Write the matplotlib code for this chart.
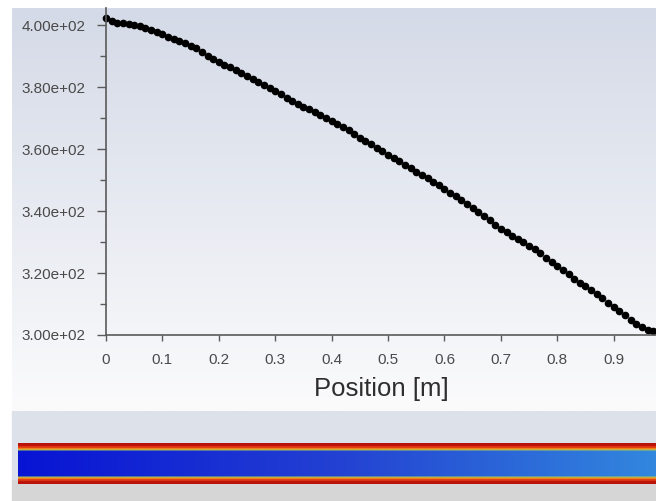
import numpy as np
import matplotlib
matplotlib.use("Agg")
import matplotlib.pyplot as plt
from matplotlib.patches import Rectangle
from matplotlib.ticker import MultipleLocator

# temperature profile along the pipe
position = [0.00, 0.01, 0.02, 0.03, 0.04, 0.05, 0.06, 0.07, 0.08, 0.09,
            0.10, 0.11, 0.12, 0.13, 0.14, 0.15, 0.16, 0.17, 0.18, 0.19,
            0.20, 0.21, 0.22, 0.23, 0.24, 0.25, 0.26, 0.27, 0.28, 0.29,
            0.30, 0.31, 0.32, 0.33, 0.34, 0.35, 0.36, 0.37, 0.38, 0.39,
            0.40, 0.41, 0.42, 0.43, 0.44, 0.45, 0.46, 0.47, 0.48, 0.49,
            0.50, 0.51, 0.52, 0.53, 0.54, 0.55, 0.56, 0.57, 0.58, 0.59,
            0.60, 0.61, 0.62, 0.63, 0.64, 0.65, 0.66, 0.67, 0.68, 0.69,
            0.70, 0.71, 0.72, 0.73, 0.74, 0.75, 0.76, 0.77, 0.78, 0.79,
            0.80, 0.81, 0.82, 0.83, 0.84, 0.85, 0.86, 0.87, 0.88, 0.89,
            0.90, 0.91, 0.92, 0.93, 0.94, 0.95, 0.96, 0.97]
temperature = [402.2, 401.2, 400.8, 400.6, 400.4, 400.0, 399.6, 399.1, 398.5, 397.8,
               397.0, 396.3, 395.5, 394.9, 394.3, 393.4, 392.5, 391.2, 390.1, 389.0,
               388.1, 387.2, 386.4, 385.5, 384.6, 383.6, 382.6, 381.6, 380.6, 379.6,
               378.6, 377.6, 376.6, 375.6, 374.6, 373.7, 372.8, 371.9, 370.9, 370.0,
               369.1, 368.1, 367.1, 366.0, 364.9, 363.7, 362.6, 361.5, 360.4, 359.3,
               358.1, 357.0, 356.0, 354.9, 353.8, 352.7, 351.6, 350.6, 349.5, 348.3,
               347.1, 345.9, 344.8, 343.5, 342.3, 341.0, 339.7, 338.4, 337.0, 335.6,
               334.3, 333.2, 332.1, 331.1, 330.0, 328.8, 327.6, 326.4, 325.0, 323.6,
               322.3, 321.0, 319.6, 318.2, 316.9, 315.8, 314.5, 313.1, 311.8, 310.3,
               309.0, 307.7, 306.3, 305.0, 303.7, 302.6, 301.7, 301.2]
x_ticks = [0, 0.1, 0.2, 0.3, 0.4, 0.5, 0.6, 0.7, 0.8, 0.9]
x_ticklabels = ["0", "0.1", "0.2", "0.3", "0.4", "0.5", "0.6", "0.7", "0.8", "0.9"]
y_ticks = [300, 320, 340, 360, 380, 400]
y_ticklabels = ["3.00e+02", "3.20e+02", "3.40e+02", "3.60e+02", "3.80e+02", "4.00e+02"]

W, H = 656, 501
plt.rcParams["font.family"] = ["Liberation Sans", "DejaVu Sans"]
fig = plt.figure(figsize=(W / 100, H / 100), dpi=100)
fig.patch.set_facecolor("white")


def box(x0, y0, x1, y1):
    # pixel box (top-left origin) -> figure fraction rect
    return [x0 / W, 1 - y1 / H, (x1 - x0) / W, (y1 - y0) / H]


# gradient panel behind the xy plot
bg = fig.add_axes(box(12, 8, 656, 411))
top = np.array([212, 218, 231]) / 255
bot = np.array([251, 251, 252]) / 255
t = np.linspace(0, 1, 200)[:, None]
grad = top * (1 - t) + bot * t
bg.imshow(grad[:, None, :], aspect="auto", extent=[0, 1, 0, 1])
bg.axis("off")

# lower panel with the pipe contour
fig.patches.append(Rectangle((12 / W, 1 - 480 / H), 644 / W, 69 / H,
                             transform=fig.transFigure, color="#dde1ea", zorder=-1))
fig.patches.append(Rectangle((12 / W, 0), 644 / W, 21 / H,
                             transform=fig.transFigure, color="#d6d6d6", zorder=-1))

pipe_ax = fig.add_axes(box(18, 443, 656, 484))
pipe_ax.set_zorder(2)
rows = 82
cols = 300
img = np.zeros((rows, cols, 3))
left_blue = np.array([8, 20, 212]) / 255
mid_blue = np.array([35, 65, 210]) / 255
right_blue = np.array([50, 135, 222]) / 255
s = np.linspace(0, 1, cols)[:, None]
blue = np.where(s < 0.5, left_blue * (1 - 2 * s) + mid_blue * 2 * s,
                mid_blue * (2 - 2 * s) + right_blue * (2 * s - 1))
edge = [(0, 6, (185, 18, 10)), (6, 10, (225, 55, 18)), (10, 13, (240, 140, 30)),
        (13, 15, (165, 200, 90))]
for a, b, c in edge:
    img[a:b] = np.array(c) / 255
    img[rows - b:rows - a] = np.array(c) / 255
img[15:rows - 15] = blue[None, :, :]
pipe_ax.imshow(img, aspect="auto", extent=[0, 1, 0, 1], interpolation="bilinear")
pipe_ax.axis("off")

# xy plot
ax = fig.add_axes(box(106, 8, 656, 335))
ax.set_zorder(3)
ax.patch.set_alpha(0)
ax.plot(position, temperature, "o", color="black", ms=4.5, mec="black", clip_on=False)
ax.set_xlim(0, 0.975)
ax.set_ylim(300, 405.5)
for side in ["top", "right"]:
    ax.spines[side].set_visible(False)
for side in ["left", "bottom"]:
    ax.spines[side].set_color("#5a5a5a")
    ax.spines[side].set_linewidth(1.2)

ax.set_xticks(x_ticks)
ax.set_xticklabels(x_ticklabels)
ax.set_yticks(y_ticks)
ax.set_yticklabels(y_ticklabels)
ax.yaxis.set_minor_locator(MultipleLocator(10))
ax.tick_params(axis="y", which="major", direction="out", length=6.5, width=1,
               color="#5a5a5a", labelsize=11, labelcolor="#4a4a4a", pad=8)
ax.tick_params(axis="y", which="minor", direction="out", length=4, width=1, color="#5a5a5a")
ax.tick_params(axis="x", which="major", direction="out", length=4, width=1,
               color="#5a5a5a", labelsize=11, labelcolor="#4a4a4a", pad=9)
ax.set_xlabel("Position [m]", fontsize=18.5, color="#2e2e2e", labelpad=7)

fig.savefig("out.png", dpi=100)
